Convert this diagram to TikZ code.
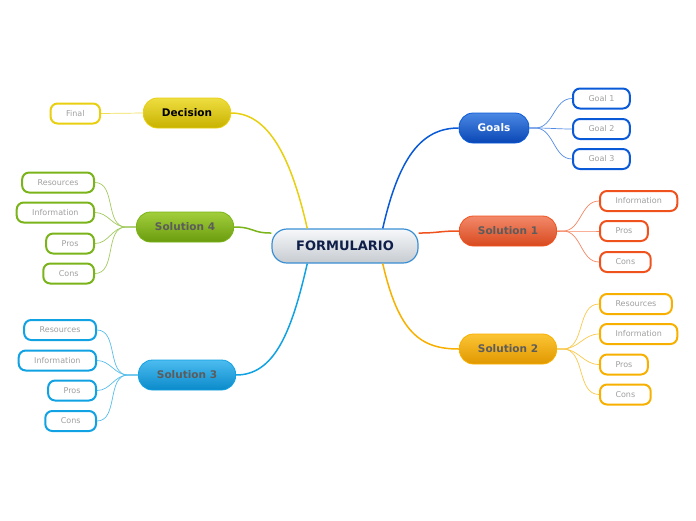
\documentclass[tikz,border=0pt]{standalone}
\usepackage{fontspec}
\setmainfont{DejaVu Sans}
\usepackage{tikz}

\definecolor{coretop}{HTML}{F6F8FA}
\definecolor{corebot}{HTML}{C6CBD0}
\definecolor{coreline}{HTML}{3A8FD4}
\definecolor{coretxt}{HTML}{0F1F4A}
\definecolor{goalA}{HTML}{4A88E4}
\definecolor{goalB}{HTML}{0A46B4}
\definecolor{goalC}{HTML}{0A5AD8}
\definecolor{oneA}{HTML}{F2896A}
\definecolor{oneB}{HTML}{D8491E}
\definecolor{oneC}{HTML}{F0521E}
\definecolor{twoA}{HTML}{FCC434}
\definecolor{twoB}{HTML}{E09800}
\definecolor{twoC}{HTML}{F7B000}
\definecolor{decA}{HTML}{EEDD40}
\definecolor{decB}{HTML}{C8B200}
\definecolor{decC}{HTML}{E8CF10}
\definecolor{fourA}{HTML}{A2CE3C}
\definecolor{fourB}{HTML}{6A9C0E}
\definecolor{fourC}{HTML}{7AB41A}
\definecolor{threeA}{HTML}{4CBCF0}
\definecolor{threeB}{HTML}{0A8ACA}
\definecolor{threeC}{HTML}{10A2E2}
\definecolor{topictxt}{HTML}{5C5C5C}
\definecolor{leaftxt}{HTML}{A0A0A0}

\begin{document}
\begin{tikzpicture}[x=1pt, y=-1pt,
  topic/.style={draw, rounded corners=14pt, minimum height=30pt, inner xsep=18.5pt,
                font=\fontsize{10.5}{12}\selectfont\bfseries, text=topictxt, line width=0.8pt},
  leaf/.style={draw, fill=white, rounded corners=7pt, minimum height=20pt, inner xsep=15.5pt,
               font=\fontsize{8}{9}\selectfont, text=leaftxt, line width=2pt},
  branch/.style={line width=1.5pt},
  twig/.style={line width=0.7pt}
]
  \useasboundingbox (0,0) rectangle (696,520);

  % central topic
  \node[draw=coreline, line width=1.2pt, rounded corners=15pt, top color=coretop, bottom color=corebot,
        minimum height=34pt, minimum width=146pt, text=coretxt,
        font=\fontsize{13}{15}\selectfont\bfseries] (core) at (345,246) {FORMULARIO};

  % main topics
  \node[topic, top color=goalA,  bottom color=goalB,  draw=goalC,  text=white] (goals) at (494,128) {Goals};
  \node[topic, top color=oneA,   bottom color=oneB,   draw=oneC]   (sol1) at (508,231) {Solution 1};
  \node[topic, top color=twoA,   bottom color=twoB,   draw=twoC]   (sol2) at (508,349) {Solution 2};
  \node[topic, top color=decA,   bottom color=decB,   draw=decC,   text=black] (dec) at (187,113) {Decision};
  \node[topic, top color=fourA,  bottom color=fourB,  draw=fourC]  (sol4) at (185,227) {Solution 4};
  \node[topic, top color=threeA, bottom color=threeB, draw=threeC] (sol3) at (187,375) {Solution 3};

  % leaves, right side
  \node[leaf, draw=goalC, anchor=west] (g1) at (572,98.5) {Goal 1};
  \node[leaf, draw=goalC, anchor=west] (g2) at (572,129)  {Goal 2};
  \node[leaf, draw=goalC, anchor=west] (g3) at (572,159)  {Goal 3};

  \node[leaf, draw=oneC, anchor=west] (s1info) at (599,201) {Information};
  \node[leaf, draw=oneC, anchor=west] (s1pros) at (599,231) {Pros};
  \node[leaf, draw=oneC, anchor=west] (s1cons) at (599,262) {Cons};

  \node[leaf, draw=twoC, anchor=west] (s2res)  at (599,304) {Resources};
  \node[leaf, draw=twoC, anchor=west] (s2info) at (599,334) {Information};
  \node[leaf, draw=twoC, anchor=west] (s2pros) at (599,364.5) {Pros};
  \node[leaf, draw=twoC, anchor=west] (s2cons) at (599,394.5) {Cons};

  % leaves, left side
  \node[leaf, draw=decC, anchor=east] (final) at (101,113.5) {Final};

  \node[leaf, draw=fourC, anchor=east] (s4res)  at (95,182.5) {Resources};
  \node[leaf, draw=fourC, anchor=east] (s4info) at (95,212.5) {Information};
  \node[leaf, draw=fourC, anchor=east] (s4pros) at (95,243.5) {Pros};
  \node[leaf, draw=fourC, anchor=east] (s4cons) at (95,273.5) {Cons};

  \node[leaf, draw=threeC, anchor=east] (s3res)  at (97,330) {Resources};
  \node[leaf, draw=threeC, anchor=east] (s3info) at (97,360.5) {Information};
  \node[leaf, draw=threeC, anchor=east] (s3pros) at (97,390.5) {Pros};
  \node[leaf, draw=threeC, anchor=east] (s3cons) at (97,421) {Cons};

  % branches from the centre
  \draw[branch, goalC]  (core.25)  .. controls +(16,-70) and +(-38,0) .. (goals.west);
  \draw[branch, oneC]   (core.10)  .. controls +(20,0) and +(-20,0) .. (sol1.west);
  \draw[branch, twoC]   (core.335) .. controls +(16,70) and +(-38,0) .. (sol2.west);
  \draw[branch, decC]   (core.155) .. controls +(-16,-70) and +(38,0) .. (dec.east);
  \draw[branch, fourC]  (core.170) .. controls +(-20,0) and +(20,0) .. (sol4.east);
  \draw[branch, threeC] (core.205) .. controls +(-16,70) and +(38,0) .. (sol3.east);

  % twigs to the leaves
  \foreach \n in {g1,g2,g3}
    \draw[twig, goalC!70!white] (goals.east) -- ++(6,0) to[out=0,in=180] (\n.west);
  \foreach \n in {s1info,s1pros,s1cons}
    \draw[twig, oneC!70!white] (sol1.east) -- ++(6,0) to[out=0,in=180] (\n.west);
  \foreach \n in {s2res,s2info,s2pros,s2cons}
    \draw[twig, twoC!70!white] (sol2.east) -- ++(6,0) to[out=0,in=180] (\n.west);
  \foreach \n in {s4res,s4info,s4pros,s4cons}
    \draw[twig, fourC!70!white] (sol4.west) -- ++(-10,0) to[out=180,in=0] (\n.east);
  \foreach \n in {s3res,s3info,s3pros,s3cons}
    \draw[twig, threeC!70!white] (sol3.west) -- ++(-10,0) to[out=180,in=0] (\n.east);
  \draw[twig, decC!70!white] (dec.west) -- (final.east);
\end{tikzpicture}
\end{document}
